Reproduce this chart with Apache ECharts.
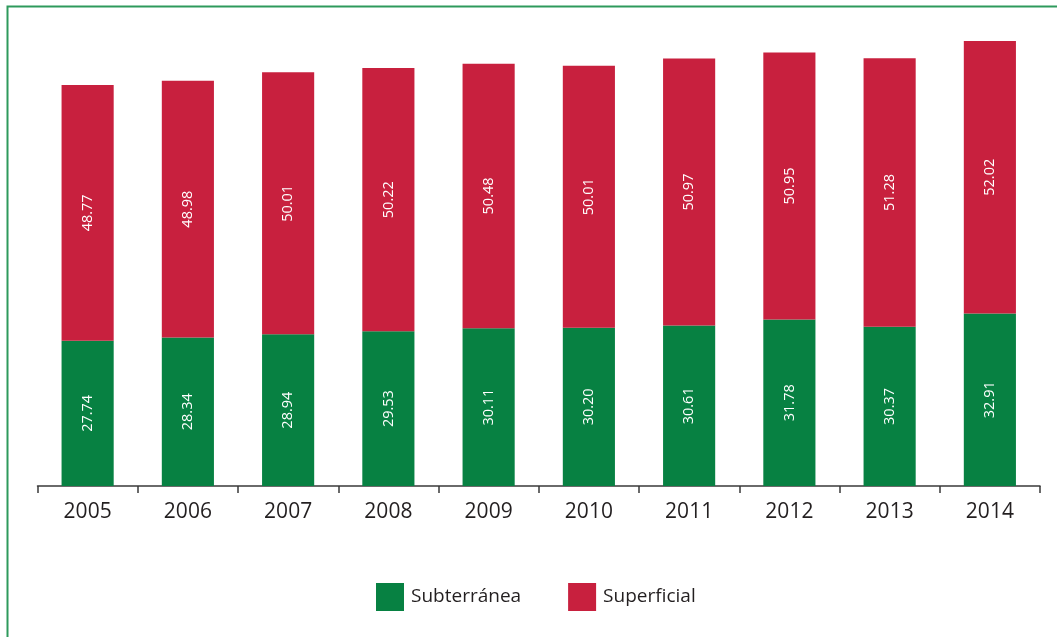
<!DOCTYPE html>
<html><head><meta charset="utf-8">
<script src="https://cdn.jsdelivr.net/npm/echarts@6/dist/echarts.min.js"></script>
<style>html,body{margin:0;padding:0;background:#fff}#c{width:1057px;height:637px}</style>
</head><body><div id="c"></div>
<script>
var years = ['2005','2006','2007','2008','2009','2010','2011','2012','2013','2014'];
var subterranea = [27.74,28.34,28.94,29.53,30.11,30.20,30.61,31.78,30.37,32.91];
var superficial = [48.77,48.98,50.01,50.22,50.48,50.01,50.97,50.95,51.28,52.02];
var chart = echarts.init(document.getElementById('c'));
var lbl = {show:true, position:'inside', rotate:90, color:'#fff', fontSize:14.5, fontFamily:'Open Sans',
  formatter:function(p){return p.value.toFixed(2);}};
chart.setOption({
  animation:false,
  graphic:[{type:'rect', shape:{x:7.5,y:6.5,width:1100,height:700}, style:{fill:'none', stroke:'#2e9a5c', lineWidth:2}, silent:true}],
  grid:{left:37.5, right:17, top:14.4, bottom:151},
  legend:{bottom:21, left:371, itemWidth:28, itemHeight:28, itemGap:47, icon:'rect',
    textStyle:{fontSize:19, color:'#231f20', fontFamily:'Open Sans', padding:[0,0,0,2]},
    data:['Subterránea','Superficial']},
  xAxis:{type:'category', data:years,
    axisLine:{lineStyle:{color:'#3a3a3a', width:1.5}},
    axisTick:{show:true, length:7, lineStyle:{color:'#3a3a3a', width:1.5}},
    axisLabel:{fontSize:21, color:'#231f20', margin:16, fontFamily:'Open Sans'}},
  yAxis:{type:'value', min:0, max:90, show:false, splitLine:{show:false}},
  series:[
    {name:'Subterránea', type:'bar', stack:'t', data:subterranea, barWidth:'52%', itemStyle:{color:'#078142'}, label:lbl},
    {name:'Superficial', type:'bar', stack:'t', data:superficial, barWidth:'52%', itemStyle:{color:'#c8203e'}, label:lbl}
  ]
});
</script></body></html>
